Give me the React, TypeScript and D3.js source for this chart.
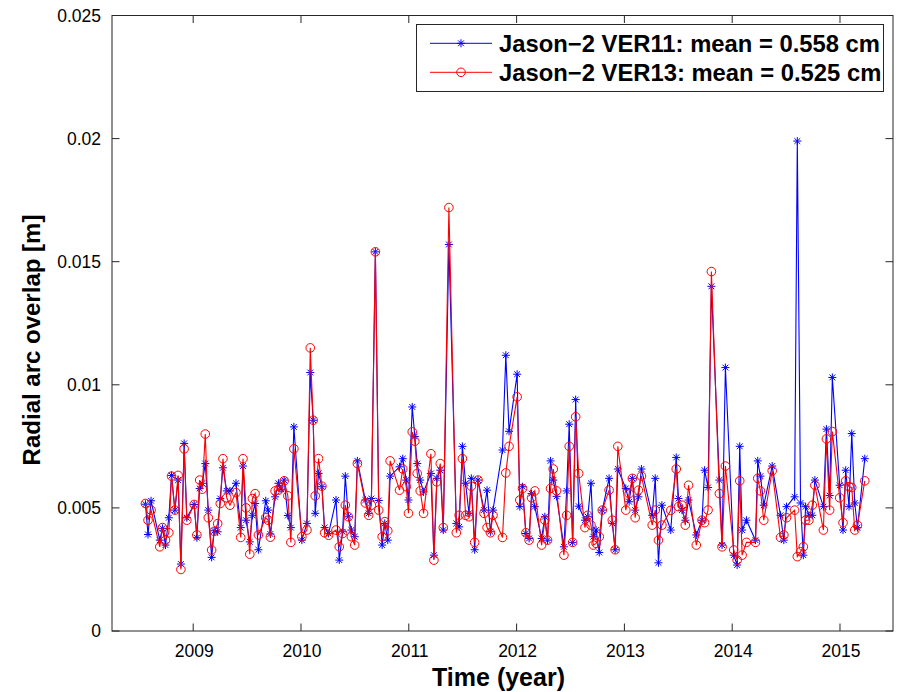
import React from "react";
import * as d3 from "d3";

// Decimal years of each arc-overlap sample (one per ~10-day repeat cycle)
const YEARS = [
  2008.557, 2008.581, 2008.609, 2008.69, 2008.715, 2008.743, 2008.774, 2008.799, 2008.83, 2008.86,
  2008.886, 2008.916, 2008.941, 2009.009, 2009.034, 2009.06, 2009.084, 2009.112, 2009.14, 2009.171,
  2009.195, 2009.227, 2009.251, 2009.276, 2009.311, 2009.341, 2009.397, 2009.441, 2009.462, 2009.49,
  2009.525, 2009.549, 2009.574, 2009.605, 2009.673, 2009.695, 2009.716, 2009.76, 2009.791, 2009.816,
  2009.844, 2009.878, 2009.906, 2009.934, 2010.008, 2010.055, 2010.086, 2010.113, 2010.132, 2010.163,
  2010.194, 2010.219, 2010.256, 2010.325, 2010.355, 2010.386, 2010.411, 2010.439, 2010.467, 2010.498,
  2010.523, 2010.597, 2010.628, 2010.653, 2010.69, 2010.721, 2010.753, 2010.777, 2010.805, 2010.827,
  2010.914, 2010.944, 2010.976, 2010.997, 2011.032, 2011.056, 2011.078, 2011.106, 2011.137, 2011.205,
  2011.233, 2011.26, 2011.292, 2011.32, 2011.372, 2011.441, 2011.467, 2011.497, 2011.527, 2011.558,
  2011.58, 2011.611, 2011.642, 2011.698, 2011.726, 2011.757, 2011.781, 2011.869, 2011.9, 2011.93,
  2012.005, 2012.03, 2012.055, 2012.086, 2012.116, 2012.139, 2012.169, 2012.232, 2012.262, 2012.287,
  2012.315, 2012.34, 2012.371, 2012.439, 2012.464, 2012.488, 2012.52, 2012.548, 2012.576, 2012.634,
  2012.66, 2012.69, 2012.712, 2012.737, 2012.767, 2012.795, 2012.858, 2012.888, 2012.914, 2012.939,
  2013.013, 2013.044, 2013.074, 2013.1, 2013.13, 2013.158, 2013.258, 2013.286, 2013.316, 2013.348,
  2013.43, 2013.481, 2013.502, 2013.534, 2013.565, 2013.595, 2013.667, 2013.72, 2013.744, 2013.776,
  2013.807, 2013.881, 2013.906, 2013.937, 2014.014, 2014.046, 2014.07, 2014.092, 2014.132, 2014.216,
  2014.237, 2014.262, 2014.293, 2014.371, 2014.448, 2014.479, 2014.504, 2014.579, 2014.604, 2014.634,
  2014.66, 2014.681, 2014.712, 2014.743, 2014.767, 2014.846, 2014.874, 2014.904, 2014.929, 2014.997,
  2015.028, 2015.053, 2015.084, 2015.109, 2015.137, 2015.162, 2015.23,
];

// Radial arc overlap, VER11 orbits (millimetres)
const VER11_MM = [
  5.15, 3.92, 5.29, 3.69, 4.17, 3.49, 4.6, 6.32, 4.91, 6.13,
  2.72, 7.62, 4.6, 5.14, 3.79, 5.79, 6.0, 6.8, 4.91, 2.99,
  4.07, 4.03, 5.38, 6.63, 5.69, 5.69, 6.0, 4.2, 6.7, 4.5,
  3.62, 4.7, 5.18, 3.3, 5.29, 4.91, 3.94, 5.45, 6.0, 5.76,
  6.13, 4.69, 4.2, 8.29, 3.69, 4.37, 10.5, 8.56, 4.78, 6.4,
  5.86, 4.2, 3.96, 5.32, 2.88, 4.03, 6.29, 4.64, 4.1, 3.83,
  6.91, 5.32, 4.78, 5.38, 15.4, 5.3, 3.49, 4.37, 3.69, 6.29,
  6.67, 7.0, 6.13, 5.32, 9.1, 7.9, 6.8, 6.13, 5.65, 6.4,
  3.08, 6.2, 6.53, 4.1, 15.7, 4.37, 4.23, 7.5, 6.0, 4.78,
  6.2, 3.3, 6.13, 4.91, 5.72, 4.03, 4.91, 7.35, 11.2, 8.11,
  10.43, 5.05, 5.86, 3.96, 3.76, 5.58, 5.05, 3.76, 4.64, 3.69,
  6.91, 6.13, 5.47, 3.42, 5.69, 8.4, 3.6, 9.4, 5.07, 4.5,
  4.64, 6.0, 3.83, 4.1, 3.19, 4.91, 6.2, 4.37, 3.3, 6.58,
  5.79, 5.25, 6.2, 4.91, 5.45, 6.58, 4.7, 6.2, 2.77, 5.11,
  4.1, 7.05, 5.38, 4.91, 4.5, 5.32, 3.9, 4.5, 6.53, 5.83,
  14.0, 6.13, 3.49, 10.7, 3.08, 2.68, 7.5, 4.1, 4.5, 3.69,
  6.91, 6.29, 5.11, 6.7, 4.7, 3.69, 5.05, 5.45, 19.9, 5.2,
  3.08, 5.05, 4.7, 4.7, 6.13, 5.05, 8.2, 5.5, 10.3, 5.92,
  4.1, 6.53, 5.05, 8.02, 5.2, 4.2, 7.0,
];

// Radial arc overlap, VER13 orbits (millimetres)
const VER13_MM = [
  5.18, 4.5, 4.91, 3.42, 4.2, 3.69, 3.99, 6.29, 4.91, 6.32,
  2.5, 7.4, 4.5, 5.14, 3.9, 6.13, 5.76, 8.0, 4.6, 3.29,
  4.05, 4.36, 5.18, 7.0, 5.41, 5.11, 5.62, 3.8, 7.0, 5.0,
  3.12, 5.38, 5.58, 3.9, 4.6, 4.5, 3.81, 5.69, 5.72, 5.84,
  6.1, 5.49, 3.6, 7.4, 3.83, 4.1, 11.5, 8.56, 5.49, 7.0,
  5.88, 3.99, 3.89, 4.1, 3.42, 3.96, 5.11, 4.64, 3.83, 3.49,
  6.8, 5.2, 4.7, 5.11, 15.4, 4.91, 3.83, 4.44, 4.07, 6.91,
  5.72, 6.58, 5.86, 4.78, 8.09, 7.71, 6.4, 5.69, 4.78, 7.2,
  2.88, 6.06, 6.8, 4.2, 17.2, 3.99, 4.7, 7.0, 4.7, 4.64,
  5.88, 3.6, 6.13, 4.78, 4.2, 3.99, 4.7, 3.8, 6.42, 7.5,
  9.51, 5.32, 5.79, 3.99, 3.69, 5.41, 5.69, 3.49, 4.5, 3.69,
  5.79, 6.58, 5.69, 3.08, 4.7, 7.5, 3.6, 8.7, 6.4, 4.2,
  4.7, 4.3, 3.49, 3.56, 3.83, 4.91, 5.72, 4.5, 3.3, 7.5,
  4.91, 5.58, 6.2, 4.6, 5.72, 6.29, 4.3, 4.91, 3.69, 4.3,
  4.9, 6.58, 5.05, 5.11, 4.3, 5.92, 3.49, 4.5, 4.4, 4.91,
  14.6, 5.58, 3.42, 6.7, 3.29, 2.88, 6.1, 3.08, 3.6, 3.6,
  6.2, 5.69, 4.5, 6.51, 3.8, 3.9, 4.6, 4.91, 3.02, 3.22,
  3.42, 4.5, 4.5, 5.11, 5.92, 4.1, 7.8, 4.91, 8.1, 5.41,
  4.4, 6.1, 5.86, 5.83, 4.1, 4.3, 6.1,
];

const X_TICKS = [2009, 2010, 2011, 2012, 2013, 2014, 2015];
const Y_TICKS = [0, 0.005, 0.01, 0.015, 0.02, 0.025];
const Y_TICK_LABELS = ["0", "0.005", "0.01", "0.015", "0.02", "0.025"];
const LEGEND_LABELS = [
  "Jason\u22122 VER11: mean = 0.558 cm",
  "Jason\u22122 VER13: mean = 0.525 cm",
];

const W = 901;
const H = 692;
const LEFT = 112;
const RIGHT = 893;
const TOP = 15.5;
const BOTTOM = 631;
const FONT = "'Liberation Sans', Arial, Helvetica, sans-serif";
const TICK = 7.5;

const BLUE = "#0000ff";
const RED = "#ff0000";

const STAR = "M-4,0H4M0,-4V4M-2.9,-2.9L2.9,2.9M-2.9,2.9L2.9,-2.9";
const CIRCLE_R = 4.3;

export default function App() {
  const x = d3.scaleLinear().domain([2008.2468, 2015.4917]).range([LEFT, RIGHT]);
  const y = d3.scaleLinear().domain([0, 0.025]).range([BOTTOM, TOP]);

  const s11 = YEARS.map((t, i) => [t, VER11_MM[i] / 1000] as [number, number]);
  const s13 = YEARS.map((t, i) => [t, VER13_MM[i] / 1000] as [number, number]);

  const line = d3
    .line<[number, number]>()
    .x((d) => x(d[0]))
    .y((d) => y(d[1]));

  const legendX0 = 430;
  const legendX1 = 492;
  const legendRows = [43.3, 72.3];

  return (
    <svg
      width={W}
      height={H}
      style={{ position: "absolute", left: 0, top: 0, background: "#fff" }}
      fontFamily={FONT}
    >
      <rect x={0} y={0} width={W} height={H} fill="#fff" />

      {/* VER11 series */}
      <path d={line(s11) || ""} fill="none" stroke={BLUE} strokeWidth={1.1} />
      {s11.map((d, i) => (
        <path
          key={`b${i}`}
          d={STAR}
          transform={`translate(${x(d[0])},${y(d[1])})`}
          stroke={BLUE}
          strokeWidth={1}
          fill="none"
        />
      ))}

      {/* VER13 series */}
      <path d={line(s13) || ""} fill="none" stroke={RED} strokeWidth={1.1} />
      {s13.map((d, i) => (
        <circle
          key={`r${i}`}
          cx={x(d[0])}
          cy={y(d[1])}
          r={CIRCLE_R}
          stroke={RED}
          strokeWidth={1}
          fill="none"
        />
      ))}

      {/* axes box */}
      <rect
        x={LEFT}
        y={TOP}
        width={RIGHT - LEFT}
        height={BOTTOM - TOP}
        fill="none"
        stroke="#262626"
        strokeWidth={1}
      />

      {/* x ticks (bottom and top, pointing inward) */}
      {X_TICKS.map((t) => (
        <g key={`xt${t}`}>
          <line x1={x(t)} x2={x(t)} y1={BOTTOM} y2={BOTTOM - TICK} stroke="#262626" />
          <line x1={x(t)} x2={x(t)} y1={TOP} y2={TOP + TICK} stroke="#262626" />
          <text x={x(t) + 1} y={656.5} textAnchor="middle" fontSize={17.5} fill="#000">
            {t}
          </text>
        </g>
      ))}

      {/* y ticks (left and right, pointing inward) */}
      {Y_TICKS.map((v, i) => (
        <g key={`yt${v}`}>
          <line x1={LEFT} x2={LEFT + TICK} y1={y(v)} y2={y(v)} stroke="#262626" />
          <line x1={RIGHT} x2={RIGHT - TICK} y1={y(v)} y2={y(v)} stroke="#262626" />
          <text
            x={101}
            y={y(v) + 6.3}
            textAnchor="end"
            fontSize={17.5}
            fill="#000"
          >
            {Y_TICK_LABELS[i]}
          </text>
        </g>
      ))}

      {/* axis titles */}
      <text
        x={(LEFT + RIGHT) / 2 - 4}
        y={686}
        textAnchor="middle"
        fontSize={25}
        fontWeight="bold"
        fill="#000"
      >
        Time (year)
      </text>
      <text
        transform={`translate(39.5,340) rotate(-90)`}
        textAnchor="middle"
        fontSize={24}
        fontWeight="bold"
        fill="#000"
      >
        Radial arc overlap [m]
      </text>

      {/* legend */}
      <rect x={416.5} y={24.5} width={467} height={67} fill="#fff" stroke="#262626" strokeWidth={1} />
      <line x1={legendX0} x2={legendX1} y1={legendRows[0]} y2={legendRows[0]} stroke={BLUE} />
      <path
        d={STAR}
        transform={`translate(${(legendX0 + legendX1) / 2},${legendRows[0]})`}
        stroke={BLUE}
        fill="none"
      />
      <line x1={legendX0} x2={legendX1} y1={legendRows[1]} y2={legendRows[1]} stroke={RED} />
      <circle
        cx={(legendX0 + legendX1) / 2}
        cy={legendRows[1]}
        r={CIRCLE_R}
        stroke={RED}
        fill="none"
      />
      {LEGEND_LABELS.map((lab, i) => (
        <text
          key={lab}
          x={499}
          y={legendRows[i] + 8.5}
          fontSize={23.8}
          fontWeight="bold"
          fill="#000"
        >
          {lab}
        </text>
      ))}
    </svg>
  );
}
